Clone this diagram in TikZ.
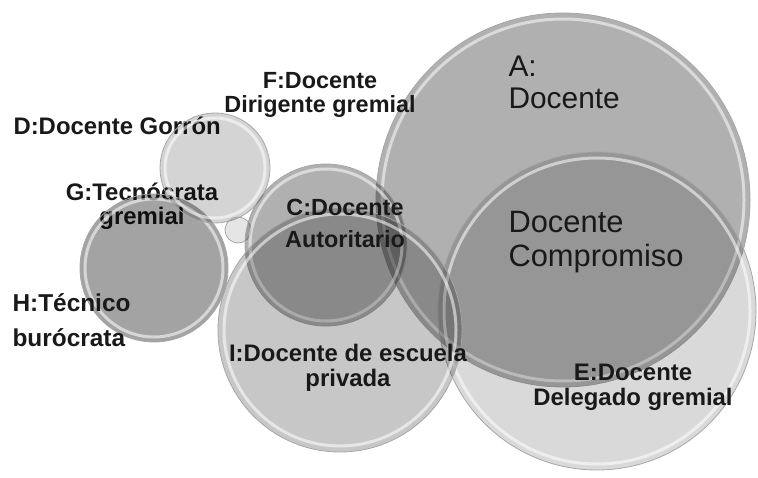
\documentclass[tikz,border=0pt]{standalone}
\usepackage{fontspec}
\setmainfont{Liberation Sans}
\usepackage{tikz}
\usetikzlibrary{positioning}

\begin{document}
\begin{tikzpicture}[x=1bp, y=-1bp,
  bubble/.style={circle, inner sep=0pt, draw=gray!70, line width=0.8bp, fill=black, fill opacity=#1},
  rim/.style={draw=white, line width=3bp, opacity=0.55},
  lbl/.style={font=\bfseries\fontsize{24}{25}\selectfont, align=center, anchor=base, text=black!90},
  big/.style={font=\fontsize{30}{34}\selectfont, align=left, anchor=base west, text=black!90}
]
\useasboundingbox (0,0) rectangle (758,478);

% labels lying under the small bubbles
\node[lbl, anchor=base west] (dlbl) at (10,135) {D:Docente Gorrón};
\node[lbl, font=\bfseries\fontsize{24}{25}\selectfont] (glbl) at (142,225) {G:Tecnócrata\\gremial};

% small bubbles on the left
\node[bubble=0.36, minimum size=148bp] (H) at (154,268) {};
\draw[rim] (H.center) circle[radius=69bp];
\node[bubble=0.17, minimum size=110bp] (F) at (215,168) {};
\draw[rim] (F.center) circle[radius=50bp];
\node[bubble=0.1, minimum size=26bp] (G) at (238,230) {};

% big bubbles
\node[bubble=0.31, minimum size=374bp] (A) at (563,200) {};
\draw[rim] (A.center) circle[radius=181bp];
\node[bubble=0.15, minimum size=318bp] (E) at (597,311) {};
\draw[rim] (E.center) circle[radius=153bp];
\node[bubble=0.31, minimum size=162bp] (C) at (326,245) {};
\draw[rim] (C.center) circle[radius=76bp];
\node[bubble=0.22, minimum size=244bp] (I) at (340,330) {};
\draw[rim] (I.center) circle[radius=116bp];

% labels
\node[lbl, align=left, anchor=base west, font=\bfseries\fontsize{24.5}{35}\selectfont] (hlbl) at (9,346) {H:Técnico\\burócrata};
\node[lbl, font=\bfseries\fontsize{23.5}{25}\selectfont] (flbl) at (320,113) {F:Docente\\Dirigente gremial};
\node[lbl, font=\bfseries\fontsize{23.5}{33}\selectfont] (clbl) at (345,248) {C:Docente\\Autoritario};
\node[lbl] (ilbl) at (348,386) {I:Docente de escuela\\privada};
\node[lbl] (elbl) at (633,405) {E:Docente\\Delegado gremial};
\node[big, font=\fontsize{30}{33}\selectfont] (albl) at (505,109) {A:\\Docente};
\node[big, font=\fontsize{31}{35}\selectfont] (dclbl) at (505,267) {Docente\\Compromiso};

\end{tikzpicture}
\end{document}
